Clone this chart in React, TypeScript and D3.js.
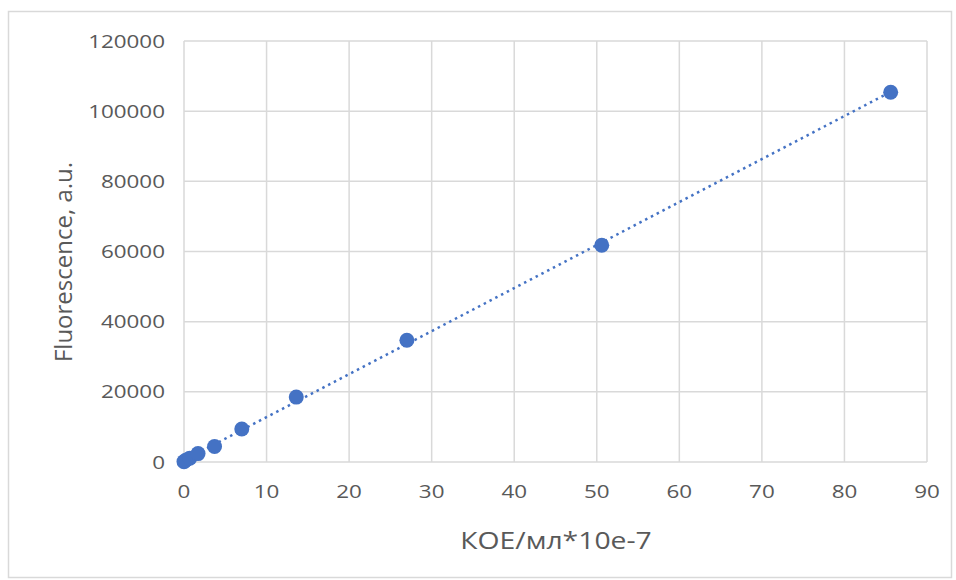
import React from "react";
import * as d3 from "d3";

// Concentration (КОЕ/мл ×10^-7) and measured fluorescence
const concentration = [0, 0.21, 0.7, 1.7, 3.7, 7.0, 13.6, 27.0, 50.6, 85.6];
const fluorescence = [100, 500, 1100, 2400, 4400, 9400, 18500, 34700, 61800, 105400];
const xTicks = [0, 10, 20, 30, 40, 50, 60, 70, 80, 90];
const yTicks = [0, 20000, 40000, 60000, 80000, 100000, 120000];

const W = 956;
const H = 580;
const plot = { left: 184, right: 927, top: 41, bottom: 462 };
const FONT = "'Open Sans', sans-serif";
const TEXT = "#595959";
const GRID = "#d9d9d9";
const BLUE = "#4472c4";
const STRETCH = 1.18; // horizontal widening of upright labels

export default function App() {
  const x = d3.scaleLinear().domain([0, 90]).range([plot.left, plot.right]);
  const y = d3.scaleLinear().domain([0, 120000]).range([plot.bottom, plot.top]);

  const points = concentration.map((c, i) => ({ c, f: fluorescence[i] }));

  // Least-squares linear trendline
  const mx = d3.mean(concentration)!;
  const my = d3.mean(fluorescence)!;
  const sxy = d3.sum(points, (p) => (p.c - mx) * (p.f - my));
  const sxx = d3.sum(points, (p) => (p.c - mx) ** 2);
  const slope = sxy / sxx;
  const intercept = my - slope * mx;
  const xMax = d3.max(concentration)!;
  const trend = d3.line<number>()
    .x((c) => x(c))
    .y((c) => y(intercept + slope * c))([0, xMax]);

  return (
    <svg width={W} height={H} style={{ position: "absolute", left: 0, top: 0, background: "#fff" }}>
      <rect x={8.5} y={11.5} width={943} height={566} fill="#fff" stroke={GRID} strokeWidth={1.5} />

      {xTicks.map((t) => (
        <line key={"gx" + t} x1={x(t)} x2={x(t)} y1={plot.top} y2={plot.bottom} stroke={GRID} strokeWidth={1.5} />
      ))}
      {yTicks.map((t) => (
        <line key={"gy" + t} x1={plot.left} x2={plot.right} y1={y(t)} y2={y(t)} stroke={GRID} strokeWidth={1.5} />
      ))}

      {yTicks.map((t) => (
        <text key={"ly" + t} transform={`translate(165,${y(t)}) scale(${STRETCH},1)`} dy="0.35em" textAnchor="end" fontFamily={FONT} fontSize={19} fill={TEXT}>
          {t}
        </text>
      ))}
      {xTicks.map((t) => (
        <text key={"lx" + t} transform={`translate(${x(t)},491) scale(${STRETCH},1)`} dy="0.35em" textAnchor="middle" fontFamily={FONT} fontSize={19} fill={TEXT}>
          {t}
        </text>
      ))}

      <path d={trend ?? ""} fill="none" stroke={BLUE} strokeWidth={2.5} strokeDasharray="2.5 4" />

      {points.map((p, i) => (
        <circle key={i} cx={x(p.c)} cy={y(p.f)} r={7.5} fill={BLUE} />
      ))}

      <text transform={`translate(556,541) scale(${STRETCH},1)`} dy="0.35em" textAnchor="middle" fontFamily={FONT} fontSize={24} fill={TEXT}>
        КОЕ/мл*10e-7
      </text>
      <text transform={`translate(64,262) rotate(-90)`} dy="0.35em" textAnchor="middle" fontFamily={FONT} fontSize={24} fill={TEXT}>
        Fluorescence, a.u.
      </text>
    </svg>
  );
}
